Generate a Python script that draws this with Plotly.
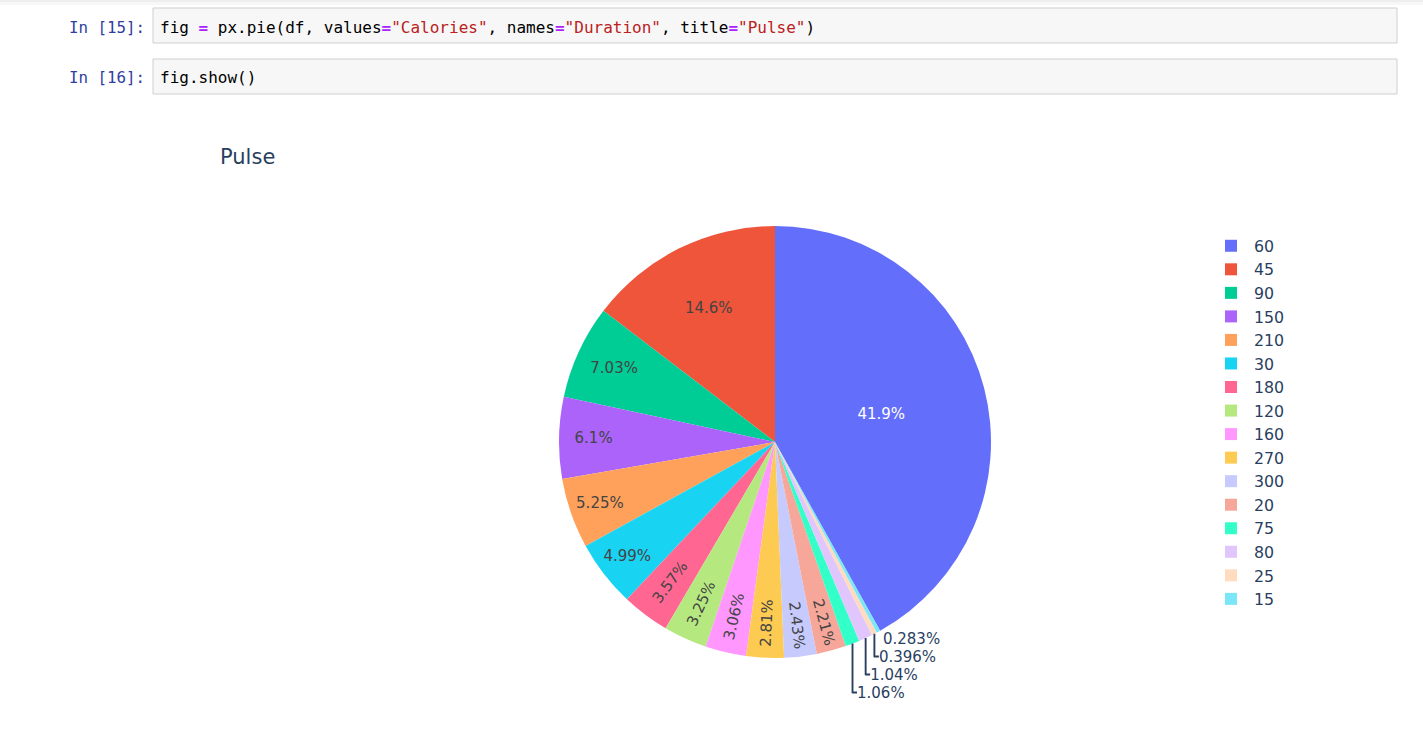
import plotly.graph_objects as go

# Data (Duration -> share of Calories)
durations = ["60", "45", "90", "150", "210", "30", "180", "120", "160", "270",
             "300", "20", "75", "80", "25", "15"]
calories = [41.9, 14.6, 7.03, 6.1, 5.25, 4.99, 3.57, 3.25, 3.06, 2.81,
            2.43, 2.21, 1.06, 1.04, 0.396, 0.283]

W, H = 1423, 743

def px_x(x):
    return x / W

def px_y(y):
    return 1 - y / H

fig = go.Figure(go.Pie(
    labels=durations,
    values=calories,
    textinfo="percent",
    automargin=False,
    domain=dict(x=[px_x(559), px_x(991)], y=[px_y(658), px_y(226)]),
))

mono = "DejaVu Sans Mono, Consolas, monospace"
P = '<span style="color:#aa22ff"><b>=</b></span>'
def s(t):
    return '<span style="color:#ba2121">' + t + '</span>'

code1 = ("fig " + P + " px.pie(df, values" + P + s('"Calories"') + ", names" + P
         + s('"Duration"') + ", title" + P + s('"Pulse"') + ")")
code2 = "fig.show()"

shapes = [
    dict(type="rect", xref="paper", yref="paper", x0=0, x1=1,
         y0=px_y(2), y1=1, fillcolor="#eeeeee", line=dict(width=0), layer="below"),
    dict(type="rect", xref="paper", yref="paper", x0=0, x1=1,
         y0=px_y(5), y1=px_y(2), fillcolor="#f7f7f7", line=dict(width=0), layer="below"),
]
annotations = []
for (y0, y1, prompt, code) in [(8, 43, "In [15]:", code1), (59, 94, "In [16]:", code2)]:
    shapes.append(dict(type="rect", xref="paper", yref="paper",
                       x0=px_x(153), x1=px_x(1397), y0=px_y(y1), y1=px_y(y0),
                       fillcolor="#f7f7f7", line=dict(color="#cfcfcf", width=1),
                       layer="below"))
    yc = px_y((y0 + y1) / 2 + 1.5)
    annotations.append(dict(xref="paper", yref="paper", x=px_x(147), y=yc,
                            xanchor="right", yanchor="middle", showarrow=False,
                            text=prompt, font=dict(family=mono, size=15.8, color="#303f9f")))
    annotations.append(dict(xref="paper", yref="paper", x=px_x(158), y=yc,
                            xanchor="left", yanchor="middle", showarrow=False,
                            text=code, font=dict(family=mono, size=16, color="#000000")))

fig.update_layout(
    width=W, height=H,
    margin=dict(l=0, r=0, t=0, b=0),
    paper_bgcolor="white",
    font=dict(family="DejaVu Sans, Verdana, sans-serif", size=15, color="#2a3f5f"),
    title=dict(text="Pulse", x=px_x(220), xanchor="left", xref="paper",
               y=px_y(157), yanchor="middle", yref="container",
               font=dict(size=21, color="#2a3f5f")),
    legend=dict(x=px_x(1208), xanchor="left", y=px_y(229), yanchor="top",
                itemwidth=36, font=dict(size=15.8)),
    shapes=shapes,
    annotations=annotations,
)

fig.write_html("out.html")
